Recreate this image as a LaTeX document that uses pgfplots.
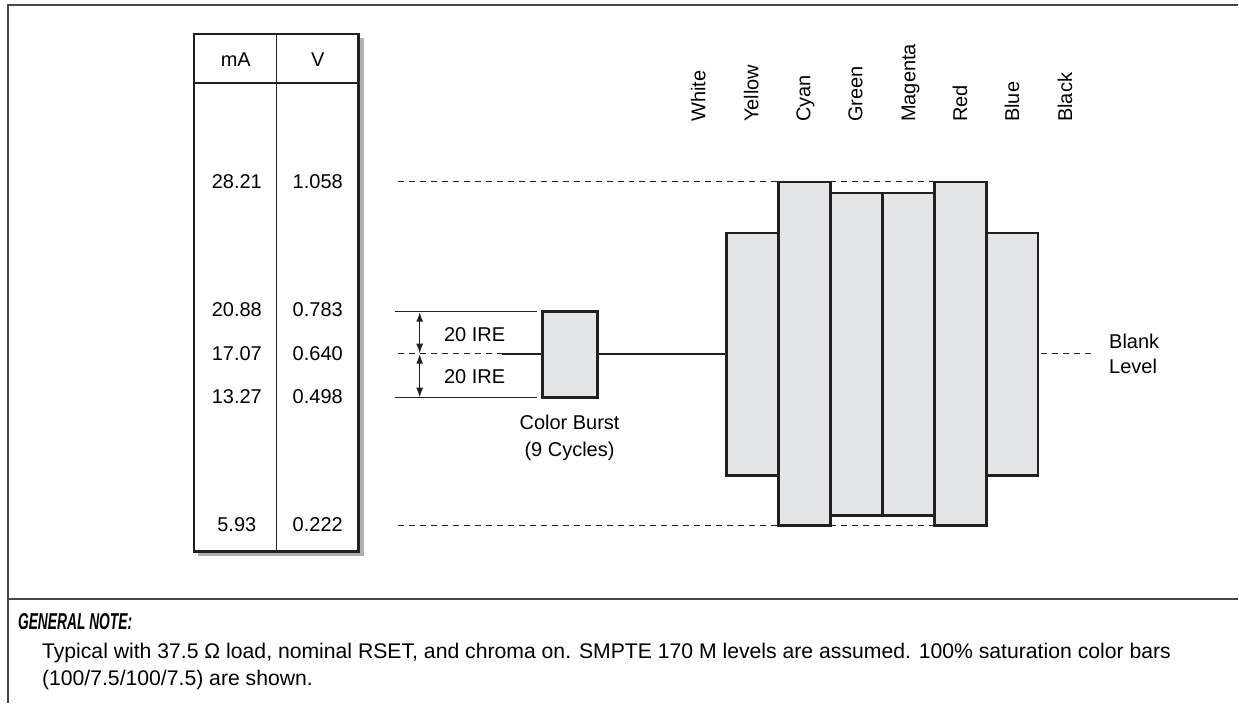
\documentclass[border=0pt]{standalone}
\usepackage{pgfplots}
\pgfplotsset{compat=1.18}
\usepackage{fontspec}
\setmainfont{Liberation Sans}
\newfontfamily\condfont[FakeStretch=0.6]{Liberation Sans}
\usetikzlibrary{arrows.meta}

\definecolor{barFill}{RGB}{228,229,231}
\definecolor{edgeColor}{RGB}{35,31,32}
\definecolor{shadowGray}{RGB}{175,175,178}
\definecolor{frameGray}{RGB}{70,70,70}

% one rectangle: left, right, top, bottom (picture units, y grows downwards)
\newcommand{\levelbox}[4]{%
  \addplot[fill=barFill, draw=edgeColor, line width=1.3pt, line join=miter]
    coordinates {(#1,#3) (#2,#3) (#2,#4) (#1,#4)} -- cycle;}

\begin{document}
\begin{tikzpicture}
\begin{axis}[
    x=0.5pt, y=0.5pt,
    y dir=reverse,
    xmin=0, xmax=1239,
    ymin=0, ymax=704,
    hide axis,
    clip=false,
    scale only axis,
    every node/.style={font=\fontsize{10}{12}\selectfont, inner sep=0pt, text=edgeColor},
]
\path (0,0) rectangle (1239,704);

% outer frame and note separator
\addplot[draw=frameGray, line width=1pt] coordinates {(8,704) (8,5) (1239,5)};
\addplot[draw=frameGray, line width=1pt] coordinates {(8,599) (1239,599)};

% level table with its shadow
\addplot[fill=shadowGray, draw=none] coordinates {(198,38) (364,38) (364,556) (198,556)} -- cycle;
\addplot[fill=white, draw=edgeColor, line width=1.3pt] coordinates {(194,34) (359,34) (359,552) (194,552)} -- cycle;
\addplot[draw=edgeColor, line width=0.6pt] coordinates {(194,83) (359,83)};
\addplot[draw=edgeColor, line width=0.6pt] coordinates {(277,34) (277,552)};
\node at (236,60) {mA};
\node at (318,60) {V};
\node at (237,182) {28.21}; \node at (318,182) {1.058};
\node at (237,310) {20.88}; \node at (318,310) {0.783};
\node at (237,354) {17.07}; \node at (318,354) {0.640};
\node at (237,397) {13.27}; \node at (318,397) {0.498};
\node at (237,525) {5.93};  \node at (318,525) {0.222};

% reference levels
\addplot[draw=edgeColor, line width=0.6pt, dash pattern=on 3pt off 2.5pt] coordinates {(398,182) (779,182)};
\addplot[draw=edgeColor, line width=0.6pt, dash pattern=on 3pt off 2.5pt] coordinates {(831,182) (935,182)};
\addplot[draw=edgeColor, line width=0.6pt, dash pattern=on 3pt off 2.5pt] coordinates {(398,526) (779,526)};
\addplot[draw=edgeColor, line width=0.6pt, dash pattern=on 3pt off 2.5pt] coordinates {(831,526) (935,526)};
\addplot[draw=edgeColor, line width=0.6pt, dash pattern=on 3pt off 2.5pt] coordinates {(398,354) (502,354)};
\addplot[draw=edgeColor, line width=0.6pt, dash pattern=on 3pt off 2.5pt] coordinates {(1042,354) (1092,354)};

% 20 IRE burst amplitude
\addplot[draw=edgeColor, line width=0.7pt] coordinates {(395,312) (537,312)};
\addplot[draw=edgeColor, line width=0.7pt] coordinates {(395,398) (537,398)};
\addplot[draw=edgeColor, line width=0.8pt, {Latex[length=5pt,width=3.5pt]}-{Latex[length=5pt,width=3.5pt]}] coordinates {(420,312) (420,354)};
\addplot[draw=edgeColor, line width=0.8pt, {Latex[length=5pt,width=3.5pt]}-{Latex[length=5pt,width=3.5pt]}] coordinates {(420,354) (420,398)};
\node at (475,335) {20 IRE};
\node at (475,377) {20 IRE};

% blank level line and color burst
\addplot[draw=edgeColor, line width=1pt] coordinates {(502,354) (727,354)};
\levelbox{543}{598}{312}{398}
\node[align=center, font=\fontsize{10}{13.5}\selectfont] at (570,438) {Color Burst\\(9 Cycles)};

% chroma of the color bars
\levelbox{727}{779}{233}{476}  % Yellow
\levelbox{987}{1039}{233}{476} % Blue
\levelbox{831}{883}{193}{516}  % Green
\levelbox{883}{935}{193}{516}  % Magenta
\levelbox{779}{831}{182}{526}  % Cyan
\levelbox{935}{987}{182}{526}  % Red

\node[align=left, anchor=west, font=\fontsize{10}{12.5}\selectfont] at (1103,354) {Blank\\Level};

% bar names
\node[rotate=90, anchor=base west] at (706,129) {White};
\node[rotate=90, anchor=base west] at (759,129) {Yellow};
\node[rotate=90, anchor=base west] at (811,129) {Cyan};
\node[rotate=90, anchor=base west] at (863,129) {Green};
\node[rotate=90, anchor=base west] at (916,129) {Magenta};
\node[rotate=90, anchor=base west] at (968,129) {Red};
\node[rotate=90, anchor=base west] at (1020,129) {Blue};
\node[rotate=90, anchor=base west] at (1073,129) {Black};

% general note
\node[anchor=base west, font=\condfont\fontsize{11.5}{13.5}\selectfont\bfseries\itshape] at (11,630) {GENERAL NOTE:};
\node[anchor=base west, font=\fontsize{10.6}{13.5}\selectfont] at (35,659)
  {Typical with 37.5 Ω load, nominal RSET, and chroma on. SMPTE 170 M levels are assumed. 100\% saturation color bars};
\node[anchor=base west, font=\fontsize{10.6}{13.5}\selectfont] at (35,686)
  {(100/7.5/100/7.5) are shown.};
\end{axis}
\end{tikzpicture}
\end{document}
